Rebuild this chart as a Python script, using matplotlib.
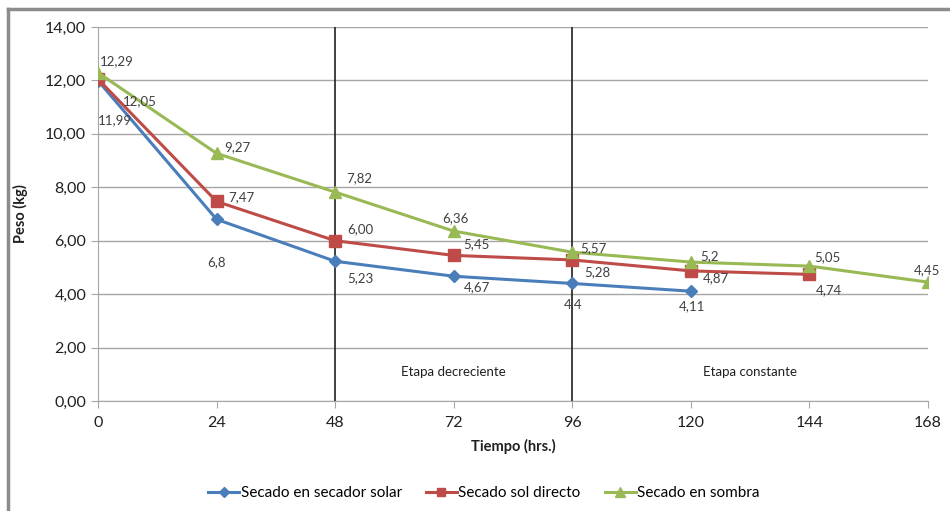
import matplotlib.pyplot as plt
from matplotlib.lines import Line2D

plt.rcParams['font.family'] = ['Lato', 'DejaVu Sans']

# data
t_solar = [0, 24, 48, 72, 96, 120]
solar = [11.99, 6.8, 5.23, 4.67, 4.4, 4.11]
solar_lbl = ['11,99', '6,8', '5,23', '4,67', '4,4', '4,11']

t_sol = [0, 24, 48, 72, 96, 120, 144]
sol = [12.05, 7.47, 6.00, 5.45, 5.28, 4.87, 4.74]
sol_lbl = ['12,05', '7,47', '6,00', '5,45', '5,28', '4,87', '4,74']

t_sombra = [0, 24, 48, 72, 96, 120, 144, 168]
sombra = [12.29, 9.27, 7.82, 6.36, 5.57, 5.2, 5.05, 4.45]
sombra_lbl = ['12,29', '9,27', '7,82', '6,36', '5,57', '5,2', '5,05', '4,45']

x_ticks = [0, 24, 48, 72, 96, 120, 144, 168]
y_ticks = [0, 2, 4, 6, 8, 10, 12, 14]

# label offsets in pixels
solar_off = [(17, -39), (0, -43), (25, -17), (23, -11), (1, -21), (1, -15)]
sol_off = [(42, -22), (25, 4), (25, 12), (23, 11), (25, -12), (25, -7), (20, -16)]
sombra_off = [(19, 12), (21, 6), (24, 14), (2, 13), (21, 4), (19, 6), (18, 9), (-1, 12)]

blue = '#4a7ebb'
red = '#be4b48'
green = '#98b954'

fig = plt.figure(figsize=(9.5, 5.11), dpi=100)
ax = fig.add_axes([98 / 950, 1 - 401 / 511, 830 / 950, 374 / 511])

ax.plot(t_solar, solar, color=blue, lw=2.2, marker='D', ms=6, label='Secado en secador solar', zorder=3)
ax.plot(t_sol, sol, color=red, lw=2.2, marker='s', ms=8, label='Secado sol directo', zorder=3)
ax.plot(t_sombra, sombra, color=green, lw=2.2, marker='^', ms=9, label='Secado en sombra', zorder=3)

for xs, ys, labels, offs in [(t_solar, solar, solar_lbl, solar_off),
                             (t_sol, sol, sol_lbl, sol_off),
                             (t_sombra, sombra, sombra_lbl, sombra_off)]:
    for x, y, s, o in zip(xs, ys, labels, offs):
        ax.annotate(s, (x, y), xytext=o, textcoords='offset pixels',
                    ha='center', va='center', fontsize=9.5, color='#404040', zorder=4)

ax.axvline(48, color='#202020', lw=1.2, zorder=2)
ax.axvline(96, color='#202020', lw=1.2, zorder=2)
ax.text(72, 1.1, 'Etapa decreciente', ha='center', va='center', fontsize=9.5, color='#202020')
ax.text(132, 1.1, 'Etapa constante', ha='center', va='center', fontsize=9.5, color='#202020')

ax.set_xlim(0, 168)
ax.set_ylim(0, 14)
ax.set_xticks(x_ticks)
ax.set_xticklabels([str(v) for v in x_ticks])
ax.set_yticks(y_ticks)
ax.set_yticklabels([('%.2f' % v).replace('.', ',') for v in y_ticks])
ax.grid(axis='y', color='#a6a6a6', lw=1)
ax.set_axisbelow(True)
for side in ['top', 'right']:
    ax.spines[side].set_visible(False)
ax.spines['left'].set_color('#a6a6a6')
ax.spines['bottom'].set_color('#a6a6a6')
ax.tick_params(axis='both', colors='#a6a6a6', labelcolor='#202020', labelsize=11.5, length=5)
ax.tick_params(axis='x', pad=6)

ax.set_xlabel('Tiempo (hrs.)', fontsize=10.5, fontweight='bold', color='#202020', labelpad=6)
ax.set_ylabel('Peso (kg)', fontsize=10.5, fontweight='bold', color='#202020', labelpad=12)

fig.legend(*ax.get_legend_handles_labels(), loc='center', bbox_to_anchor=(484 / 950, 1 - 493 / 511),
           ncol=3, frameon=False, fontsize=11, handlelength=2.0, handletextpad=0.1,
           columnspacing=1.6, markerscale=0.8)

# outer chart border
fig.add_artist(Line2D([8 / 950, 8 / 950], [0, 1 - 9 / 511], color='#8c8c8c', lw=2.5))
fig.add_artist(Line2D([8 / 950, 1], [1 - 9 / 511, 1 - 9 / 511], color='#8c8c8c', lw=2.5))

fig.savefig('out.png', dpi=100)
